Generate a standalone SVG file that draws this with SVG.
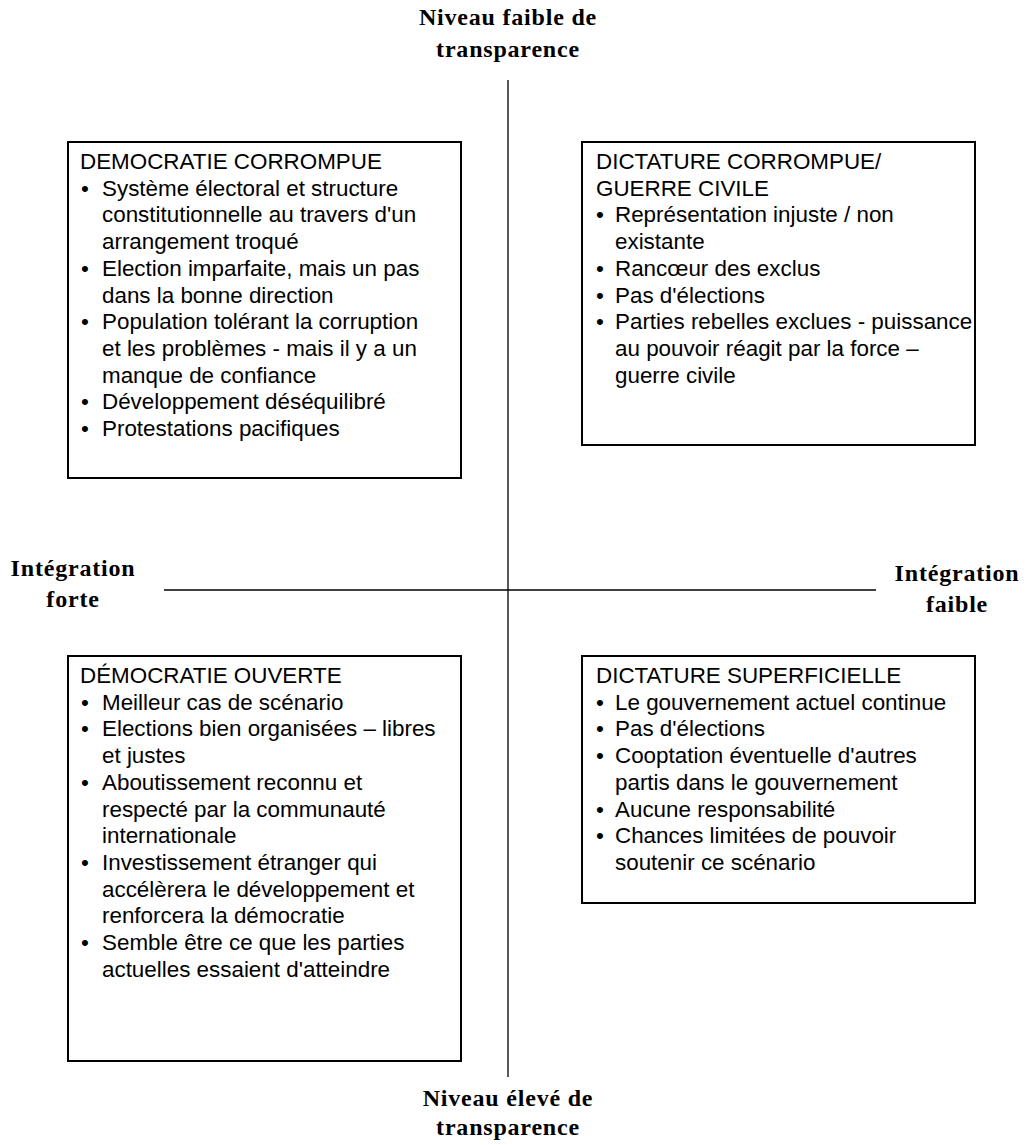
<svg xmlns="http://www.w3.org/2000/svg" width="1032" height="1145" viewBox="0 0 1032 1145">
<style>
.box{fill:#fff;stroke:#000;stroke-width:2}
.t{font-family:"Liberation Sans",Arial,sans-serif;font-size:22.4px;fill:#000}
.lbl{font-family:"Liberation Serif","Times New Roman",serif;font-size:24px;font-weight:bold;fill:#000;letter-spacing:0.8px;text-anchor:middle}
.axis{stroke:#000;stroke-width:1.3;fill:none}
</style>
<rect width="1032" height="1145" fill="#fff"/>
<g id="connectors">
<line class="axis" x1="508" y1="80" x2="508" y2="1077"/>
<line class="axis" x1="164" y1="590" x2="876" y2="590"/>
</g>
<g id="label-top">
<text class="lbl" x="508" y="25">Niveau faible de</text>
<text class="lbl" x="508" y="57">transparence</text>
</g>
<g id="label-bottom">
<text class="lbl" x="508" y="1106">Niveau élevé de</text>
<text class="lbl" x="508" y="1135">transparence</text>
</g>
<g id="label-left">
<text class="lbl" x="73" y="576">Intégration</text>
<text class="lbl" x="73" y="607">forte</text>
</g>
<g id="label-right">
<text class="lbl" x="957" y="581">Intégration</text>
<text class="lbl" x="957" y="612">faible</text>
</g>
<g id="box-democratie-corrompue">
<rect class="box" x="68" y="142" width="393" height="336"/>
<text class="t" x="80" y="169">DEMOCRATIE CORROMPUE</text>
<text class="t" x="81" y="195.7">•</text><text class="t" x="102" y="195.7">Système électoral et structure</text>
<text class="t" x="102" y="222.4">constitutionnelle au travers d'un</text>
<text class="t" x="102" y="249.1">arrangement troqué</text>
<text class="t" x="81" y="275.8">•</text><text class="t" x="102" y="275.8">Election imparfaite, mais un pas</text>
<text class="t" x="102" y="302.5">dans la bonne direction</text>
<text class="t" x="81" y="329.2">•</text><text class="t" x="102" y="329.2">Population tolérant la corruption</text>
<text class="t" x="102" y="355.9">et les problèmes - mais il y a un</text>
<text class="t" x="102" y="382.6">manque de confiance</text>
<text class="t" x="81" y="409.3">•</text><text class="t" x="102" y="409.3">Développement déséquilibré</text>
<text class="t" x="81" y="436">•</text><text class="t" x="102" y="436">Protestations pacifiques</text>
</g>
<g id="box-dictature-corrompue">
<rect class="box" x="582" y="142" width="393" height="303"/>
<text class="t" x="596" y="169">DICTATURE CORROMPUE/</text>
<text class="t" x="596" y="195.7">GUERRE CIVILE</text>
<text class="t" x="596" y="222.4">•</text><text class="t" x="615" y="222.4">Représentation injuste / non</text>
<text class="t" x="615" y="249.1">existante</text>
<text class="t" x="596" y="275.8">•</text><text class="t" x="615" y="275.8">Rancœur des exclus</text>
<text class="t" x="596" y="302.5">•</text><text class="t" x="615" y="302.5">Pas d'élections</text>
<text class="t" x="596" y="329.2">•</text><text class="t" x="615" y="329.2">Parties rebelles exclues - puissance</text>
<text class="t" x="615" y="355.9">au pouvoir réagit par la force –</text>
<text class="t" x="615" y="382.6">guerre civile</text>
</g>
<g id="box-democratie-ouverte">
<rect class="box" x="68" y="656" width="393" height="405"/>
<text class="t" x="80" y="683">DÉMOCRATIE OUVERTE</text>
<text class="t" x="81" y="709.7">•</text><text class="t" x="102" y="709.7">Meilleur cas de scénario</text>
<text class="t" x="81" y="736.4">•</text><text class="t" x="102" y="736.4">Elections bien organisées – libres</text>
<text class="t" x="102" y="763.1">et justes</text>
<text class="t" x="81" y="789.8">•</text><text class="t" x="102" y="789.8">Aboutissement reconnu et</text>
<text class="t" x="102" y="816.5">respecté par la communauté</text>
<text class="t" x="102" y="843.2">internationale</text>
<text class="t" x="81" y="869.9">•</text><text class="t" x="102" y="869.9">Investissement étranger qui</text>
<text class="t" x="102" y="896.6">accélèrera le développement et</text>
<text class="t" x="102" y="923.3">renforcera la démocratie</text>
<text class="t" x="81" y="950">•</text><text class="t" x="102" y="950">Semble être ce que les parties</text>
<text class="t" x="102" y="976.7">actuelles essaient d'atteindre</text>
</g>
<g id="box-dictature-superficielle">
<rect class="box" x="582" y="656" width="393" height="247"/>
<text class="t" x="596" y="683">DICTATURE SUPERFICIELLE</text>
<text class="t" x="596" y="709.7">•</text><text class="t" x="615" y="709.7">Le gouvernement actuel continue</text>
<text class="t" x="596" y="736.4">•</text><text class="t" x="615" y="736.4">Pas d'élections</text>
<text class="t" x="596" y="763.1">•</text><text class="t" x="615" y="763.1">Cooptation éventuelle d'autres</text>
<text class="t" x="615" y="789.8">partis dans le gouvernement</text>
<text class="t" x="596" y="816.5">•</text><text class="t" x="615" y="816.5">Aucune responsabilité</text>
<text class="t" x="596" y="843.2">•</text><text class="t" x="615" y="843.2">Chances limitées de pouvoir</text>
<text class="t" x="615" y="869.9">soutenir ce scénario</text>
</g>
</svg>
